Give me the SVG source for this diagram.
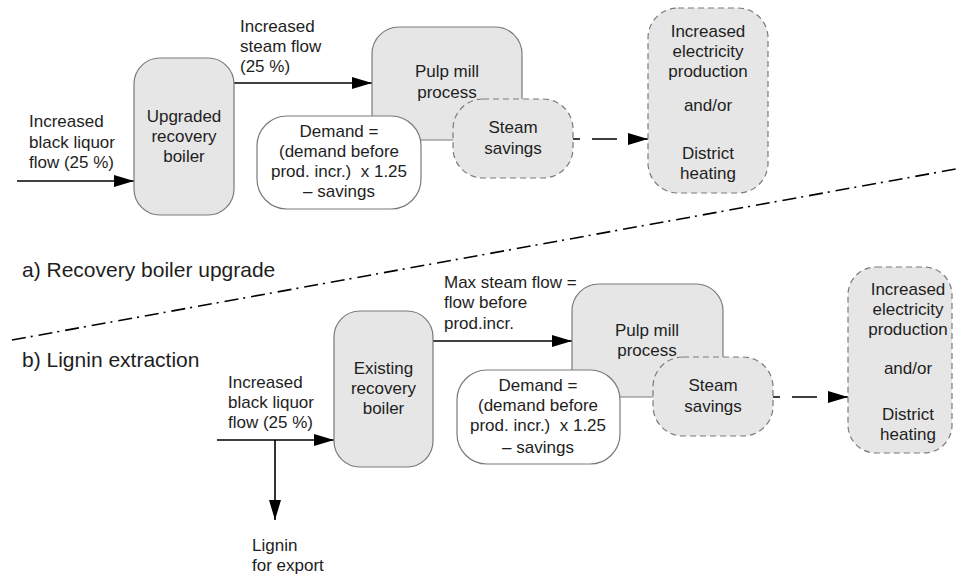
<svg xmlns="http://www.w3.org/2000/svg" width="956" height="574" viewBox="0 0 956 574">
<defs>
<style>
.n{fill:#e6e6e6;stroke:#7a7a7a;stroke-width:1.2}
.w{fill:#ffffff;stroke:#7a7a7a;stroke-width:1.2}
.d{fill:#e6e6e6;stroke:#7a7a7a;stroke-width:1.2;stroke-dasharray:6,4}
text{font-family:"Liberation Sans",Arial,sans-serif;font-size:17px;fill:#1e1e1e}
.c{text-anchor:middle}
.big{font-size:21px}
.e{stroke:#000;stroke-width:1.6;fill:none}
.ed{stroke:#000;stroke-width:1.6;fill:none;stroke-dasharray:25,12;stroke-dashoffset:18}
.sep{stroke:#000;stroke-width:1.6;fill:none;stroke-dasharray:14,5,2,6}
</style>
<marker id="ah" markerUnits="userSpaceOnUse" markerWidth="20" markerHeight="12" refX="20" refY="6" orient="auto">
<path d="M0,0 L20,6 L0,12 Z" fill="#000"/>
</marker>
</defs>

<g id="connectors">
<line class="e" x1="17" y1="181" x2="134" y2="181" marker-end="url(#ah)"/>
<line class="e" x1="234" y1="83" x2="372" y2="83" marker-end="url(#ah)"/>
<line class="ed" x1="573" y1="139" x2="648" y2="139" marker-end="url(#ah)"/>
<line class="e" x1="217" y1="440" x2="334" y2="440" marker-end="url(#ah)"/>
<line class="e" x1="275" y1="440" x2="275" y2="520" marker-end="url(#ah)"/>
<line class="e" x1="433" y1="341" x2="572" y2="341" marker-end="url(#ah)"/>
<line class="ed" x1="773" y1="397" x2="848" y2="397" marker-end="url(#ah)"/>
</g>

<g id="separator">
<line class="sep" x1="12" y1="340" x2="956" y2="169"/>
</g>

<g id="labels">
<text x="29" y="127">Increased</text>
<text x="29" y="148">black liquor</text>
<text x="29" y="168">flow (25 %)</text>
<text x="240" y="32">Increased</text>
<text x="240" y="52">steam flow</text>
<text x="240" y="72">(25 %)</text>
<text class="big" x="22" y="277">a) Recovery boiler upgrade</text>
<text class="big" x="22" y="367">b) Lignin extraction</text>
<text x="228" y="388">Increased</text>
<text x="228" y="408">black liquor</text>
<text x="228" y="428">flow (25 %)</text>
<text x="252" y="551">Lignin</text>
<text x="252" y="571">for export</text>
<text x="444" y="288">Max steam flow =</text>
<text x="444" y="308">flow before</text>
<text x="444" y="329">prod.incr.</text>
</g>

<g id="boiler-a">
<rect class="n" x="134" y="58" width="100" height="157" rx="26"/>
<text class="c" x="184" y="122">Upgraded</text>
<text class="c" x="184" y="142">recovery</text>
<text class="c" x="184" y="162">boiler</text>
</g>

<g id="pulp-a">
<rect class="n" x="372" y="27" width="150" height="113" rx="27"/>
<text class="c" x="447" y="77">Pulp mill</text>
<text class="c" x="447" y="98">process</text>
</g>

<g id="demand-a">
<rect class="w" x="257" y="116" width="164" height="93" rx="30"/>
<text class="c" x="339" y="137">Demand =</text>
<text class="c" x="339" y="157">(demand before</text>
<text class="c" x="339" y="177">prod. incr.)&#160; x 1.25</text>
<text class="c" x="339" y="197">– savings</text>
</g>

<g id="savings-a">
<rect class="d" x="453" y="99" width="120" height="79" rx="30"/>
<text class="c" x="513" y="133">Steam</text>
<text class="c" x="513" y="154">savings</text>
</g>

<g id="electricity-a">
<rect class="d" x="648" y="8" width="120" height="185" rx="30"/>
<text class="c" x="708" y="37">Increased</text>
<text class="c" x="708" y="57">electricity</text>
<text class="c" x="708" y="77">production</text>
<text class="c" x="708" y="111">and/or</text>
<text class="c" x="708" y="159">District</text>
<text class="c" x="708" y="179">heating</text>
</g>

<g id="boiler-b">
<rect class="n" x="334" y="311" width="99" height="156" rx="26"/>
<text class="c" x="383.5" y="374">Existing</text>
<text class="c" x="383.5" y="394">recovery</text>
<text class="c" x="383.5" y="414">boiler</text>
</g>

<g id="pulp-b">
<rect class="n" x="572" y="284" width="151" height="113" rx="27"/>
<text class="c" x="647" y="336">Pulp mill</text>
<text class="c" x="647" y="356">process</text>
</g>

<g id="demand-b">
<rect class="w" x="457" y="370" width="163" height="94" rx="30"/>
<text class="c" x="538" y="391">Demand =</text>
<text class="c" x="538" y="411">(demand before</text>
<text class="c" x="538" y="431">prod. incr.)&#160; x 1.25</text>
<text class="c" x="538" y="453">– savings</text>
</g>

<g id="savings-b">
<rect class="d" x="653" y="357" width="120" height="79" rx="30"/>
<text class="c" x="713" y="391">Steam</text>
<text class="c" x="713" y="412">savings</text>
</g>

<g id="electricity-b">
<rect class="d" x="848" y="267" width="104" height="186" rx="28"/>
<text class="c" x="908" y="295">Increased</text>
<text class="c" x="908" y="315">electricity</text>
<text class="c" x="908" y="335">production</text>
<text class="c" x="908" y="374">and/or</text>
<text class="c" x="908" y="420">District</text>
<text class="c" x="908" y="440">heating</text>
</g>
</svg>
